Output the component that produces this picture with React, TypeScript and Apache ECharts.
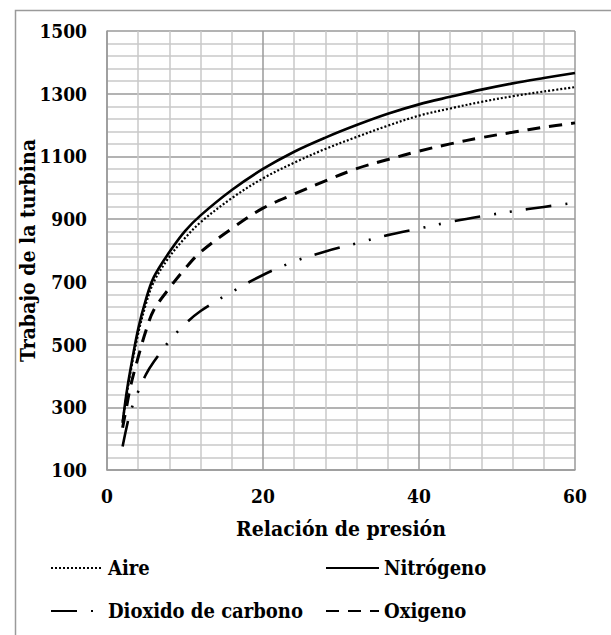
import React, { useEffect, useRef } from "react";
import * as echarts from "echarts";

const xs = [2, 2.5, 3, 4, 5, 6, 8, 10, 12, 16, 20, 24, 28, 32, 36, 40, 44, 48, 52, 56, 60];
const aire = [255, 335, 410, 535, 630, 700, 780, 840, 890, 967, 1030, 1080, 1124, 1162, 1198, 1230, 1253, 1274, 1292, 1307, 1321];
const nitrogeno = [250, 345, 420, 550, 645, 715, 795, 862, 912, 993, 1060, 1115, 1160, 1200, 1236, 1266, 1290, 1313, 1333, 1350, 1366];
const dioxido = [175, 235, 285, 350, 405, 445, 512, 565, 607, 668, 722, 765, 797, 823, 849, 870, 891, 909, 925, 939, 952];
const oxigeno = [235, 300, 365, 460, 545, 610, 680, 742, 795, 870, 935, 980, 1022, 1061, 1090, 1117, 1140, 1160, 1177, 1193, 1207];

const yTickLabels = ["100", "300", "500", "700", "900", "1100", "1300", "1500"];
const xTitle = "Relación de presión";
const yTitle = "Trabajo de la turbina";

const FONT = "DejaVu Serif Condensed";
const titleTxt = { fontWeight: "bold" as const, fontSize: 21, color: "#000", fontFamily: FONT };
const tickTxt = { fontWeight: "bold" as const, fontSize: 19, color: "#000", fontFamily: FONT };
const legendTxt = { fontWeight: "bold" as const, fontSize: 20, color: "#000", fontFamily: FONT };

function pairs(v: number[]) {
  return xs.map((x, i) => [x, v[i]]);
}

export default function App() {
  const ref = useRef<HTMLDivElement>(null);
  useEffect(() => {
    if (!ref.current) return;
    const chart = echarts.init(ref.current, null, { renderer: "svg" });
    const grid = { left: 107, top: 31, right: 36, bottom: 165 };
    const minor = { show: true, lineStyle: { color: "#c8c8c8", width: 1.5 } };
    const major = { show: true, lineStyle: { color: "#9a9a9a", width: 1.5 } };
    const mkSeries = (name: string, data: number[], type: any, width: number) => ({
      name,
      type: "line",
      yAxisIndex: 0,
      data: pairs(data),
      smooth: 0.35,
      symbol: "none",
      showSymbol: false,
      lineStyle: { color: "#000", width, type, cap: "butt" },
      itemStyle: { color: "#000" },
      z: 5,
    });
    const legendCommon = {
      orient: "horizontal",
      selectedMode: false,
      itemHeight: 14,
      textStyle: legendTxt,
      itemStyle: { opacity: 0 },
      padding: 0,
    };
    chart.setOption({
      animation: false,
      backgroundColor: "#fff",
      grid,
      graphic: [
        {
          type: "rect",
          left: 13,
          top: 8,
          shape: { width: 640, height: 660 },
          style: { fill: "none", stroke: "#9a9a9a", lineWidth: 1.5 },
          z: -1,
        },
      ],
      xAxis: {
        type: "value",
        min: 0,
        max: 60,
        interval: 20,
        name: xTitle,
        nameLocation: "middle",
        nameGap: 48,
        nameTextStyle: titleTxt,
        axisLine: { show: true, lineStyle: { color: "#9a9a9a", width: 1.5 } },
        axisTick: { show: false },
        axisLabel: { ...tickTxt, margin: 16 },
        splitLine: major,
        minorTick: { show: false, splitNumber: 5 },
        minorSplitLine: minor,
      },
      yAxis: [
        {
          type: "value",
          min: 100,
          max: 1500,
          position: "left",
          show: true,
          axisLine: { show: false },
          axisTick: { show: false },
          axisLabel: { show: false },
          splitLine: { show: false },
        },
        {
          type: "value",
          min: 0,
          max: 1400,
          interval: 200,
          position: "left",
          name: yTitle,
          nameLocation: "middle",
          nameGap: 69,
          nameMoveOverlap: false,
          nameRotate: 90,
          nameTextStyle: titleTxt,
          axisLine: { show: true, lineStyle: { color: "#9a9a9a", width: 1.5 } },
          axisTick: { show: false },
          axisLabel: {
            ...tickTxt,
            margin: 20,
            formatter: (v: number) => yTickLabels[Math.round(v / 200)] ?? "",
          },
          splitLine: major,
          minorTick: { show: false, splitNumber: 5 },
          minorSplitLine: minor,
        },
      ],
      legend: [
        { ...legendCommon, data: ["Aire"], left: 50, top: 558, itemWidth: 52 },
        { ...legendCommon, data: ["Nitrógeno"], left: 325, top: 558, itemWidth: 53 },
        { ...legendCommon, data: ["Dioxido de carbono"], left: 50, top: 601, itemWidth: 52 },
        { ...legendCommon, data: ["Oxigeno"], left: 325, top: 601, itemWidth: 53 },
      ],
      series: [
        mkSeries("Aire", aire, [2, 2], 2.2),
        mkSeries("Nitrógeno", nitrogeno, "solid", 2.6),
        mkSeries("Dioxido de carbono", dioxido, [26, 14, 2, 14, 2, 14], 2.6),
        mkSeries("Oxigeno", oxigeno, [13, 9], 3),
      ],
    });
    return () => chart.dispose();
  }, []);
  return (
    <div
      ref={ref}
      style={{ position: "fixed", left: 0, top: 0, width: 611, height: 635, background: "#fff" }}
    />
  );
}
